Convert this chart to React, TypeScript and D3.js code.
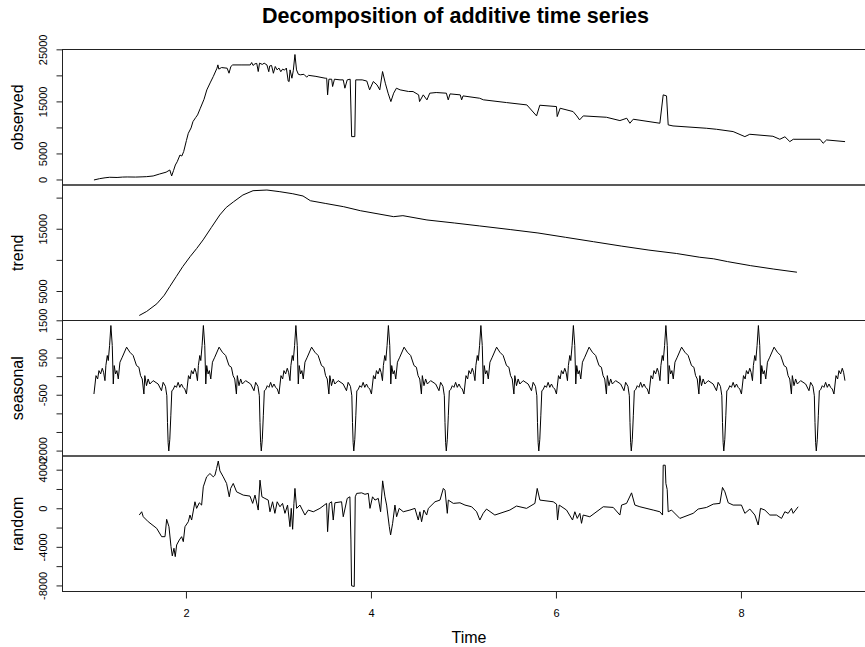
import React from 'react';
import * as d3 from 'd3';

const W = 865;
const H = 647;
const FONT = '"Liberation Sans", Arial, Helvetica, sans-serif';

// ---- data: [time, value] ----
const observed: [number, number][] = [
  [1.0, 0], [1.06, 250], [1.12, 420], [1.17, 520], [1.25, 480], [1.31, 560], [1.36, 580], [1.45, 560], [1.52, 600], [1.57, 640],
  [1.64, 770], [1.71, 1150], [1.78, 1500], [1.82, 1920], [1.84, 770], [1.86, 1800], [1.88, 2880], [1.9, 3500], [1.93, 4800], [1.95, 4600],
  [1.97, 5450], [2.0, 7600], [2.02, 8970], [2.05, 10000], [2.07, 11200], [2.1, 12000], [2.12, 12500], [2.15, 13780], [2.19, 15500], [2.22, 17300],
  [2.26, 18800], [2.29, 19870], [2.33, 21470], [2.34, 22110], [2.35, 21300], [2.38, 21600], [2.44, 21470], [2.46, 20510], [2.48, 21800], [2.5, 22100],
  [2.6, 22100], [2.69, 22100], [2.705, 22560], [2.72, 22000], [2.74, 22300], [2.76, 22400], [2.776, 20830], [2.79, 22440], [2.82, 22200], [2.84, 22440],
  [2.87, 22100], [2.89, 20800], [2.9, 21900], [2.92, 22000], [2.94, 20500], [2.96, 21800], [2.98, 21150], [3.0, 21500], [3.02, 20800], [3.04, 21300],
  [3.06, 21100], [3.08, 21500], [3.1, 19000], [3.11, 18900], [3.12, 21150], [3.14, 19550], [3.155, 21000], [3.173, 24100], [3.19, 21150], [3.21, 20300],
  [3.23, 20200], [3.27, 20300], [3.3, 19750], [3.32, 20100], [3.4, 19900], [3.5, 19550], [3.516, 19550], [3.526, 16350], [3.54, 19360], [3.57, 19360],
  [3.58, 17950], [3.6, 19360], [3.66, 19230], [3.695, 19230], [3.713, 17630], [3.738, 19230], [3.77, 19360], [3.786, 8330], [3.82, 8330], [3.83, 19230],
  [3.9, 19230], [3.95, 19000], [3.98, 17310], [4.02, 18910], [4.06, 18270], [4.09, 17310], [4.12, 20830], [4.15, 18590], [4.18, 16670], [4.21, 15060],
  [4.24, 16670], [4.27, 17630], [4.31, 17310], [4.4, 17000], [4.45, 16990], [4.51, 16350], [4.52, 15060], [4.56, 16350], [4.6, 15385], [4.63, 16670],
  [4.7, 16800], [4.81, 16670], [4.83, 15385], [4.85, 16540], [4.96, 16350], [4.975, 15385], [4.99, 16150], [5.17, 15700], [5.21, 15400], [5.46, 14870],
  [5.68, 14420], [5.785, 12310], [5.82, 14360], [6.0, 14100], [6.008, 12180], [6.04, 13780], [6.18, 13140], [6.22, 12300], [6.25, 11540], [6.29, 12310],
  [6.54, 12050], [6.686, 11410], [6.76, 11860], [6.794, 10900], [6.83, 11670], [7.118, 10900], [7.154, 16350], [7.19, 16150], [7.208, 10580], [7.26, 10380],
  [7.62, 9940], [7.73, 9740], [7.91, 9300], [8.037, 8330], [8.09, 8780], [8.34, 8400], [8.415, 7820], [8.47, 8300], [8.523, 7370], [8.56, 7820],
  [8.85, 7820], [8.883, 7050], [8.92, 7690], [9.12, 7370],
];

const trend: [number, number][] = [
  [1.49, 1150], [1.57, 1800], [1.68, 3030], [1.76, 4400], [1.82, 5800], [1.89, 7400], [1.96, 9000], [2.04, 10610], [2.11, 11900], [2.18, 13290],
  [2.27, 15300], [2.36, 17290], [2.43, 18500], [2.51, 19420], [2.61, 20500], [2.72, 21190], [2.87, 21300], [3.01, 21030], [3.15, 20700], [3.26, 20340],
  [3.34, 19580], [3.5, 19150], [3.7, 18620], [3.88, 17980], [4.06, 17500], [4.24, 17020], [4.34, 17180], [4.6, 16490], [4.9, 16000], [5.17, 15530],
  [5.5, 14950], [5.8, 14400], [6.1, 13700], [6.4, 13000], [6.7, 12300], [7.0, 11650], [7.3, 11100], [7.55, 10500], [7.7, 10250], [7.85, 9800],
  [8.1, 9150], [8.35, 8600], [8.6, 8100],
];

// one seasonal cycle (phase within the period, value); the seasonal component repeats it
const seasonalPhase = [
  0, 0.022, 0.04, 0.054, 0.072, 0.09, 0.104, 0.119, 0.129, 0.144, 0.155, 0.169, 0.183, 0.198, 0.209, 0.219, 0.234, 0.248,
  0.263, 0.281, 0.306, 0.353, 0.388, 0.424, 0.46, 0.486, 0.504, 0.522, 0.54, 0.55, 0.568, 0.586, 0.604, 0.64, 0.694, 0.73,
  0.748, 0.773, 0.788, 0.795, 0.802, 0.809, 0.82, 0.831, 0.842, 0.856, 0.874, 0.892, 0.91, 0.928, 0.946, 0.964, 0.982,
];
const seasonalCycle = [
  -467, 27, -63, 162, 72, 225, 117, -108, 297, 567, 432, 836, 1373, 836, -198, 297, 72, 162,
  -63, 387, 522, 792, 657, 567, 297, 252, 27, -63, -467, 27, -243, -63, -198, -108, -198, -378,
  -153, -261, -513, -1233, -1773, -1997, -1682, -1052, -378, -351, -243, -288, -153, -288, -198, -288, -333,
];
const seasonStart = 1;
const seasonEnd = 9.12;

const random: [number, number][] = [
  [1.49, -651], [1.516, -310], [1.533, -827], [1.587, -1344], [1.678, -2026], [1.732, -2894], [1.768, -2894], [1.786, -1096], [1.811, -1860], [1.833, -3928],
  [1.847, -4889], [1.865, -4093], [1.879, -4961], [1.894, -3752], [1.923, -3235], [1.948, -2894], [1.966, -3411], [1.984, -1860], [2.02, -1344], [2.038, -651],
  [2.056, -1168], [2.092, 724], [2.11, 41], [2.139, 620], [2.164, 382], [2.182, 2274], [2.218, 3308], [2.254, 3652], [2.29, 3308], [2.308, 3483],
  [2.326, 4176], [2.344, 4950], [2.362, 3928], [2.398, 3308], [2.434, 2625], [2.463, 1240], [2.478, 2109], [2.506, 2625], [2.542, 1757], [2.614, 1416],
  [2.687, 1313], [2.716, 558], [2.741, 1416], [2.776, -134], [2.795, 2966], [2.816, 1240], [2.848, 1075], [2.884, 899], [2.903, -310], [2.931, 724],
  [2.956, -475], [2.981, 724], [3.011, 207], [3.039, 558], [3.065, -475], [3.093, 382], [3.119, -1860], [3.133, 41], [3.148, -2129], [3.162, 558],
  [3.173, 2109], [3.191, 41], [3.227, 382], [3.281, -651], [3.317, -134], [3.371, -310], [3.443, 41], [3.515, 558], [3.526, -2377], [3.544, 558],
  [3.569, 724], [3.587, -1168], [3.605, 620], [3.677, 724], [3.695, -827], [3.738, 1075], [3.767, 1240], [3.778, -3235], [3.785, -7990], [3.814, -8058],
  [3.825, 1240], [3.84, 1592], [3.894, 1650], [3.93, 1500], [3.966, 1592], [3.984, 41], [4.012, 1240], [4.038, 899], [4.074, 1075], [4.099, -310],
  [4.121, 2894], [4.146, 1240], [4.164, 382], [4.193, -1860], [4.207, -2718], [4.229, -1509], [4.254, 382], [4.272, -827], [4.3, 41], [4.344, -310],
  [4.416, -134], [4.47, 41], [4.506, -1168], [4.524, -310], [4.542, -1344], [4.567, -134], [4.597, -651], [4.615, 41], [4.687, 724], [4.741, 899],
  [4.777, 2109], [4.795, 1930], [4.82, -475], [4.831, 899], [4.885, 558], [4.957, 620], [5.011, 382], [5.083, 207], [5.137, -310], [5.172, -1168],
  [5.208, -475], [5.244, -30], [5.334, -651], [5.496, -134], [5.568, 280], [5.677, 41], [5.767, 558], [5.792, 2109], [5.821, 899], [5.965, 724],
  [6.001, 482], [6.012, -1168], [6.03, 382], [6.109, -134], [6.174, -1168], [6.199, -310], [6.225, -999], [6.253, -475], [6.271, -1509], [6.289, -651],
  [6.361, -827], [6.506, 207], [6.614, 138], [6.686, -651], [6.704, 382], [6.758, 558], [6.812, 1650], [6.848, 382], [6.902, 207], [7.046, -134],
  [7.118, -310], [7.147, -651], [7.154, 4517], [7.176, 4517], [7.183, 2625], [7.197, 2005], [7.208, -310], [7.244, -134], [7.334, -999], [7.478, -475],
  [7.532, -30], [7.623, 138], [7.695, 482], [7.767, 558], [7.795, 2212], [7.821, 1757], [7.857, 620], [7.91, 382], [8.0, 382], [8.037, -475],
  [8.091, -30], [8.145, -651], [8.181, -1685], [8.206, 41], [8.253, -134], [8.307, -651], [8.379, -651], [8.433, -999], [8.469, -310], [8.505, -475],
  [8.541, 41], [8.559, -475], [8.613, 207],
];

// ---- axis ticks / labels ----
const xTicks = [2, 4, 6, 8];
const xDomain: [number, number] = [0.66, 9.46];
const obsTicks = [0, 5000, 10000, 15000, 20000, 25000];
const obsLabels = [0, 5000, 15000, 25000];
const trendTicks = [5000, 10000, 15000, 20000];
const trendLabels = [5000, 15000];
const seasTicks = [-2000, -1500, -1000, -500, 0, 500, 1000, 1500];
const seasLabels = [-2000, -500, 500, 1500];
const randTicks = [-8000, -6000, -4000, -2000, 0, 2000, 4000];
const randLabels = [-8000, -4000, 0, 4000];
const panelNames = ['observed', 'trend', 'seasonal', 'random'];
const title = 'Decomposition of additive time series';
const xTitle = 'Time';

function seasonalSeries(): [number, number][] {
  const out: [number, number][] = [];
  for (let k = 0; k < 20; k++) {
    for (let i = 0; i < seasonalPhase.length; i++) {
      const t = seasonStart + k + seasonalPhase[i];
      if (t > seasonEnd) return out;
      out.push([t, seasonalCycle[i]]);
    }
  }
  return out;
}

function rDomain(data: [number, number][]): [number, number] {
  const [a, b] = d3.extent(data, (d) => d[1]) as [number, number];
  const pad = (b - a) * 0.04;
  return [a - pad, b + pad];
}

export default function App() {
  const left = 62.5;
  const right = 876.5;
  const top = 49.5;
  const ph = 135.5;
  const x = d3.scaleLinear().domain(xDomain).range([left, right]);

  const seasonal = seasonalSeries();
  const panels = [
    { name: panelNames[0], data: observed, ticks: obsTicks, labels: obsLabels },
    { name: panelNames[1], data: trend, ticks: trendTicks, labels: trendLabels },
    { name: panelNames[2], data: seasonal, ticks: seasTicks, labels: seasLabels },
    { name: panelNames[3], data: random, ticks: randTicks, labels: randLabels },
  ];
  const bottom = top + ph * 4;

  return (
    <svg width={W} height={H} style={{ position: 'absolute', left: 0, top: 0, background: '#fff' }} fontFamily={FONT}>
      <rect x={0} y={0} width={W} height={H} fill="#fff" />
      <text x={455.5} y={23} textAnchor="middle" fontWeight="bold" fontSize={21.5}>{title}</text>
      {panels.map((p, i) => {
        const y0 = top + ph * i;
        const y1 = y0 + ph;
        const y = d3.scaleLinear().domain(rDomain(p.data)).range([y1, y0]);
        const line = d3.line<[number, number]>().x((d) => x(d[0])).y((d) => y(d[1]));
        const ticks = p.ticks.filter((t) => y(t) >= y0 - 0.6 && y(t) <= y1 + 0.6);
        return (
          <g key={p.name}>
            <path d={line(p.data) || ''} fill="none" stroke="#000" strokeWidth={1} strokeLinejoin="round" />
            <rect x={left} y={y0} width={right - left} height={ph} fill="none" stroke="#222" strokeWidth={1} />
            {ticks.map((t) => (
              <line key={t} x1={left} x2={left - 6} y1={y(t)} y2={y(t)} stroke="#222" strokeWidth={1} />
            ))}
            {p.labels.map((t) => (
              <text key={'l' + t} transform={`translate(46.5,${y(t)}) rotate(-90)`} textAnchor="middle" fontSize={11}>
                {String(t)}
              </text>
            ))}
            <text transform={`translate(23,${(y0 + y1) / 2}) rotate(-90)`} textAnchor="middle" fontSize={16}>
              {p.name}
            </text>
          </g>
        );
      })}
      {xTicks.map((t) => (
        <g key={t}>
          <line x1={x(t)} x2={x(t)} y1={bottom} y2={bottom + 7} stroke="#222" strokeWidth={1} />
          <text x={x(t)} y={616.5} textAnchor="middle" fontSize={11}>{String(t)}</text>
        </g>
      ))}
      <text x={469} y={643} textAnchor="middle" fontSize={16}>{xTitle}</text>
    </svg>
  );
}
